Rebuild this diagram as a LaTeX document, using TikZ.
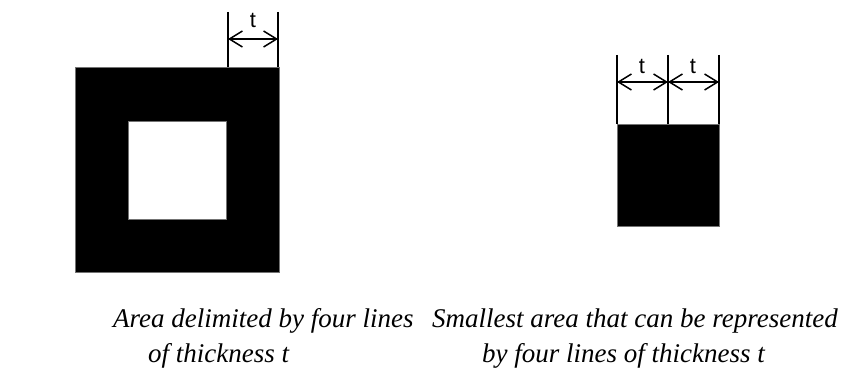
\documentclass[tikz,border=0pt]{standalone}
\usepackage{fontspec}
\setmainfont{Liberation Serif}
\newfontfamily\labelfont{Liberation Sans}
\usetikzlibrary{arrows.meta}
\tikzstyle{area} = [fill=black, draw=black!55, line width=0.6pt]
\tikzstyle{hole} = [fill=white, draw=black!55, line width=0.6pt]
\tikzstyle{extline} = [draw, line width=1.5pt]
\tikzstyle{dimline} = [draw, line width=1.5pt, {Straight Barb[length=13pt, width=16pt, line width=1.5pt]}-{Straight Barb[length=13pt, width=16pt, line width=1.5pt]}]
\tikzstyle{tlabel} = [font=\labelfont\fontsize{22}{22}\selectfont, inner sep=0pt]
\tikzstyle{caption} = [font=\itshape\fontsize{27}{30}\selectfont, inner sep=0pt]

\begin{document}
\begin{tikzpicture}[x=1pt, y=-1pt]
\useasboundingbox (0,0) rectangle (850,374);

% square with a hole
\path [area] (75,67) rectangle (279,272);
\path [hole] (128,121) rectangle (226,219);

\coordinate (left_a) at (228,12);
\coordinate (left_b) at (278,12);
\path [extline] (left_a) -- (228,67);
\path [extline] (left_b) -- (278,67);
\path [dimline] (228,39) -- (278,39);
\node [tlabel] at (253,20) (t_left) {t};

% smallest area
\path [area] (617,124) rectangle (719,226);

\coordinate (right_a) at (617,55);
\coordinate (right_b) at (668,55);
\coordinate (right_c) at (719,55);
\path [extline] (right_a) -- (617,124);
\path [extline] (right_b) -- (668,124);
\path [extline] (right_c) -- (719,124);
\path [dimline] (617,82) -- (668,82);
\path [dimline] (668,82) -- (719,82);
\node [tlabel] at (642,66) (t_right1) {t};
\node [tlabel] at (693,66) (t_right2) {t};

\node [caption, anchor=west] at (113,321) (text_1) {Area delimited by four lines};
\node [caption, anchor=west] at (148,356) (text_2) {of thickness t};
\node [caption, anchor=east] at (838,321) (text_3) {Smallest area that can be represented};
\node [caption, anchor=west] at (482,356) (text_4) {by four lines of thickness t};

\end{tikzpicture}
\end{document}
